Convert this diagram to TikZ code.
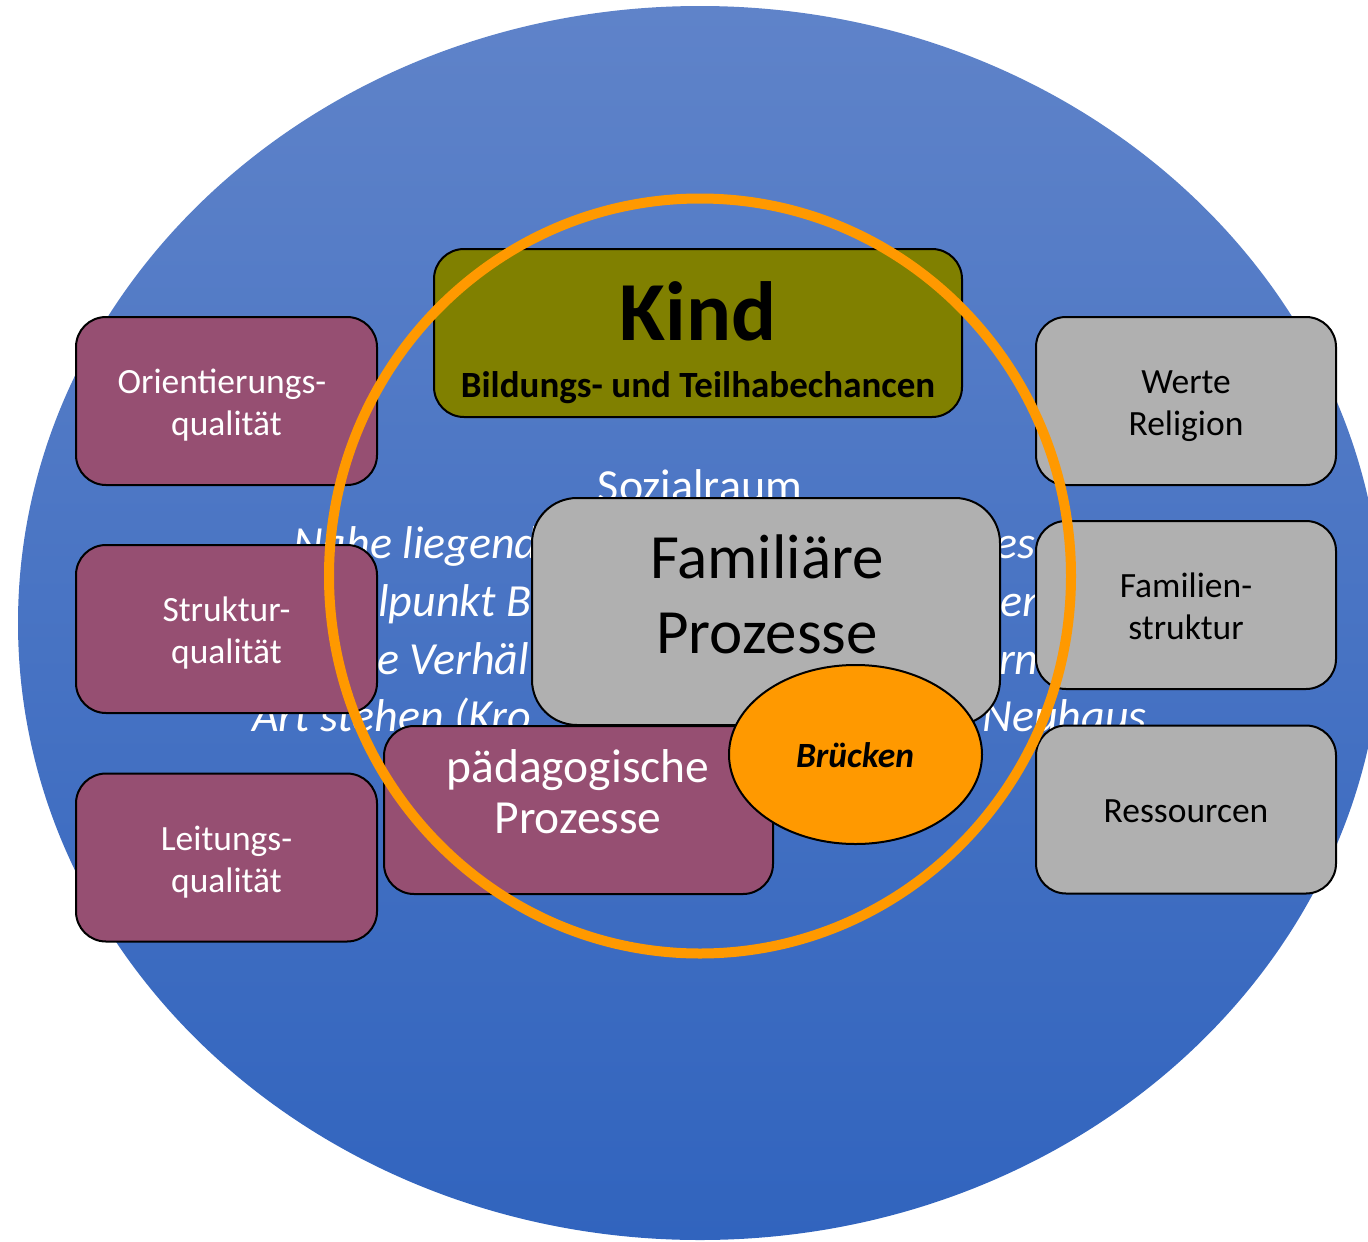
\documentclass[tikz,border=0pt]{standalone}
\usepackage{fontspec}
\setmainfont{Carlito}
\usetikzlibrary{shapes.geometric}
\definecolor{bgtop}{RGB}{95,131,201}
\definecolor{bgbot}{RGB}{49,100,190}
\definecolor{maroonc}{RGB}{150,79,114}
\definecolor{grayc}{RGB}{176,176,176}
\definecolor{olivec}{RGB}{128,128,0}
\definecolor{orangec}{RGB}{255,153,0}
\begin{document}
\begin{tikzpicture}[x=1pt,y=-1pt,
  box/.style={draw=black,line width=2pt,rounded corners=30pt,inner sep=0pt},
  qual/.style={box,fill=maroonc,minimum width=301pt,minimum height=168pt},
  fam/.style={box,fill=grayc,minimum width=300pt,minimum height=168pt},
  lbl/.style={anchor=base,inner sep=0pt,font=\fontsize{35.5}{43}\selectfont},
  bgtext/.style={inner sep=0pt,text=white,font=\fontsize{46}{58}\selectfont\itshape},
]
\useasboundingbox (0,0) rectangle (1368,1242);
\clip (0,0) rectangle (1368,1242);
% background ellipse
\shade[top color=bgtop,bottom color=bgbot] (700,623) ellipse [x radius=682, y radius=617];

% background text (Sozialraum)
\node[bgtext,anchor=base,font=\fontsize{46}{58}\selectfont\upshape] (sozial) at (700,501) {Sozialraum};
\node[bgtext,anchor=base west] (t1a) at (293,558) {Nahe liegend};
\node[bgtext,anchor=base east] (t1b) at (1036,558) {es};
\node[bgtext,anchor=base west] (t2a) at (378,616) {lpunkt B};
\node[bgtext,anchor=base west] (t2b) at (1000,616) {en};
\node[bgtext,anchor=base west] (t3a) at (377,674) {e Verhäl};
\node[bgtext,anchor=base west] (t3b) at (999,674) {rn};
\node[bgtext,anchor=base west] (t4a) at (252,731) {Art stehen (Kro};
\node[bgtext,anchor=base east] (t4b) at (1147,731) {Neuhaus};

% left quality boxes
\node[qual] (orient) at (226.5,401) {};
\node[lbl,text=white] (orientA) at (222,393) {Orientierungs-};
\node[lbl,text=white] (orientB) at (226.5,435) {qualität};
\node[qual] (struk) at (226.5,629) {};
\node[lbl,text=white] (strukA) at (226.5,621) {Struktur-};
\node[lbl,text=white] (strukB) at (226.5,663) {qualität};
\node[qual] (leit) at (226.5,857.5) {};
\node[lbl,text=white] (leitA) at (226.5,850) {Leitungs-};
\node[lbl,text=white] (leitB) at (226.5,892) {qualität};

% right family boxes
\node[fam] (werte) at (1186,401) {};
\node[lbl] (werteA) at (1186,393) {Werte};
\node[lbl] (werteB) at (1186,435) {Religion};
\node[fam] (famstr) at (1186,605) {};
\node[lbl] (famstrA) at (1186,597) {Familien-};
\node[lbl] (famstrB) at (1186,639) {struktur};
\node[fam] (ress) at (1186,809.5) {};
\node[lbl] (ressA) at (1186,822) {Ressourcen};

% Kind
\node[box,fill=olivec,minimum width=528pt,minimum height=168pt] (kind) at (698,333) {};
\node[anchor=base,inner sep=0pt,font=\fontsize{84}{100}\selectfont\bfseries] (kindA) at (698,340) {Kind};
\node[anchor=base,inner sep=0pt,font=\fontsize{37}{44}\selectfont\bfseries] (kindB) at (698,397) {Bildungs- und Teilhabechancen};

% paedagogische Prozesse
\node[box,fill=maroonc,minimum width=389pt,minimum height=168pt] (paed) at (578.5,810) {};
\node[anchor=base,inner sep=0pt,text=white,font=\fontsize{47.5}{52}\selectfont] (paedA) at (578,782) {pädagogische};
\node[anchor=base,inner sep=0pt,text=white,font=\fontsize{47.5}{52}\selectfont] (paedB) at (578,833) {Prozesse};

% Familiaere Prozesse
\node[box,rounded corners=45pt,fill=grayc,minimum width=468pt,minimum height=227pt] (famproc) at (766,611.5) {};
\node[anchor=base,inner sep=0pt,font=\fontsize{63}{76}\selectfont] (famprocA) at (767,578) {Familiäre};
\node[anchor=base,inner sep=0pt,font=\fontsize{63}{76}\selectfont] (famprocB) at (767,653) {Prozesse};

% orange ring
\node[draw=orangec,line width=10pt,ellipse,inner sep=0pt,minimum width=742pt,minimum height=755pt] (ring) at (700,576) {};

% Bruecken
\node[draw=black,line width=2pt,fill=orangec,ellipse,inner sep=0pt,minimum width=253pt,minimum height=179pt] (bruecken) at (855.5,754.5) {};
\node[anchor=base,inner sep=0pt,font=\fontsize{35.5}{40}\selectfont\bfseries\itshape] (brueckenA) at (855,767) {Brücken};
\end{tikzpicture}
\end{document}
